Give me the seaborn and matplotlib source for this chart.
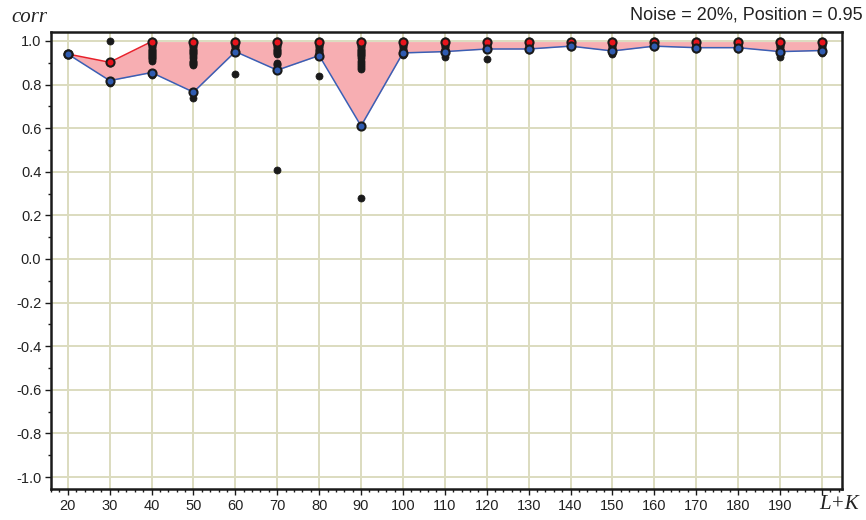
import numpy as np
import pandas as pd
import matplotlib
matplotlib.use("Agg")
import matplotlib.pyplot as plt
from matplotlib.ticker import MultipleLocator
import seaborn as sns

# window length L+K
lk = [20, 30, 40, 50, 60, 70, 80, 90, 100, 110, 120, 130, 140, 150, 160, 170, 180, 190, 200]

# individual correlation values for each window length
runs = {
    20: [0.94],
    30: [1.0, 0.90, 0.818, 0.805],
    40: [1.0, 0.995, 0.99, 0.985, 0.98, 0.975, 0.97, 0.965, 0.96, 0.955, 0.95, 0.945,
         0.94, 0.935, 0.93, 0.925, 0.92, 0.915, 0.91, 0.855, 0.842],
    50: [1.0, 0.995, 0.99, 0.985, 0.98, 0.975, 0.97, 0.965, 0.96, 0.955, 0.95, 0.945,
         0.94, 0.93, 0.92, 0.91, 0.905, 0.90, 0.895, 0.89, 0.765, 0.738],
    60: [1.0, 0.995, 0.99, 0.985, 0.98, 0.975, 0.97, 0.965, 0.96, 0.955, 0.951, 0.847],
    70: [1.0, 0.995, 0.99, 0.985, 0.98, 0.975, 0.97, 0.965, 0.96, 0.955, 0.95, 0.945,
         0.94, 0.90, 0.895, 0.89, 0.866, 0.407],
    80: [1.0, 0.995, 0.99, 0.985, 0.98, 0.975, 0.97, 0.965, 0.96, 0.955, 0.95, 0.945,
         0.94, 0.936, 0.841],
    90: [1.0, 0.995, 0.99, 0.985, 0.98, 0.975, 0.97, 0.965, 0.96, 0.955, 0.95, 0.945,
         0.94, 0.935, 0.93, 0.92, 0.91, 0.90, 0.89, 0.88, 0.87, 0.61, 0.281],
    100: [1.0, 0.995, 0.99, 0.985, 0.98, 0.975, 0.97, 0.965, 0.96, 0.955, 0.95, 0.945,
          0.936],
    110: [1.0, 0.995, 0.99, 0.985, 0.98, 0.975, 0.97, 0.965, 0.96, 0.955, 0.951, 0.925],
    120: [1.0, 0.995, 0.99, 0.985, 0.98, 0.975, 0.97, 0.965, 0.963, 0.919],
    130: [1.0, 0.995, 0.99, 0.985, 0.98, 0.975, 0.97, 0.966, 0.96],
    140: [1.0, 0.995, 0.99, 0.985, 0.98, 0.976, 0.97],
    150: [1.0, 0.995, 0.99, 0.985, 0.98, 0.975, 0.97, 0.965, 0.96, 0.955, 0.945, 0.939],
    160: [1.0, 0.995, 0.99, 0.985, 0.98, 0.976, 0.97],
    170: [1.0, 0.995, 0.99, 0.985, 0.98, 0.975, 0.969, 0.963],
    180: [1.0, 0.995, 0.99, 0.985, 0.98, 0.975, 0.969, 0.962],
    190: [1.0, 0.995, 0.99, 0.985, 0.98, 0.975, 0.97, 0.965, 0.96, 0.955, 0.951, 0.94,
          0.928],
    200: [1.0, 0.995, 0.99, 0.985, 0.98, 0.975, 0.97, 0.965, 0.96, 0.956, 0.945],
}

# upper and lower envelope of the band
upper = [0.94, 0.902, 0.997, 0.997, 0.997, 0.997, 0.997, 0.997, 0.997, 0.997,
         0.997, 0.997, 0.997, 0.997, 0.997, 0.997, 0.997, 0.997, 0.997]
lower = [0.94, 0.818, 0.855, 0.765, 0.951, 0.866, 0.933, 0.61, 0.945, 0.951,
         0.963, 0.963, 0.976, 0.954, 0.976, 0.969, 0.969, 0.951, 0.956]

yticks = [1.0, 0.8, 0.6, 0.4, 0.2, 0.0, -0.2, -0.4, -0.6, -0.8, -1.0]
xtick_labels = ["20", "30", "40", "50", "60", "70", "80", "90", "100", "110",
                "120", "130", "140", "150", "160", "170", "180", "190", ""]

pts = pd.DataFrame([(k, v) for k in lk for v in runs[k]], columns=["lk", "corr"])
band = pd.DataFrame({"lk": lk, "upper": upper, "lower": lower})

sns.set_style("white")
plt.rcParams["font.family"] = ["Liberation Sans", "DejaVu Sans"]
plt.rcParams["axes.unicode_minus"] = False

fig = plt.figure(figsize=(8.66, 5.2), dpi=100)
ax = fig.add_axes([0.0589, 0.0596, 0.9134, 0.8789])

grid_c = "#dcdcbf"
ax.set_xlim(16, 204.8)
ax.set_ylim(-1.055, 1.041)

# shaded band between the envelopes
ax.fill_between(band["lk"], band["lower"], band["upper"], color="#f7aeb2",
                linewidth=0, zorder=1)

# the upper line only stands out where it drops below the cap
below_cap = band.index[band["upper"] < 0.99]
rising = band.iloc[: below_cap.max() + 2]
sns.lineplot(data=rising, x="lk", y="upper", color="#e8202a", linewidth=1.1,
             ax=ax, zorder=2, estimator=None)
sns.lineplot(data=band, x="lk", y="lower", color="#3a5fb5", linewidth=1.1,
             ax=ax, zorder=2, estimator=None)

sns.scatterplot(data=pts, x="lk", y="corr", color="#1a1a1a", s=26,
                edgecolor="#1a1a1a", linewidth=0.5, ax=ax, zorder=3)
sns.scatterplot(data=band, x="lk", y="upper", color="#e8141c", s=34,
                edgecolor="#1a1a1a", linewidth=1.5, ax=ax, zorder=4)
sns.scatterplot(data=band, x="lk", y="lower", color="#2f5bb0", s=34,
                edgecolor="#1a1a1a", linewidth=1.5, ax=ax, zorder=4)

ax.set_xticks(lk)
ax.set_xticklabels(xtick_labels)
ax.set_yticks(yticks)
ax.set_yticklabels([f"{v:.1f}" for v in yticks])
ax.xaxis.set_minor_locator(MultipleLocator(2))
ax.yaxis.set_minor_locator(MultipleLocator(0.1))

ax.grid(True, which="major", color=grid_c, linewidth=1.4, zorder=0)
ax.set_axisbelow(True)
for s in ax.spines.values():
    s.set_color("#1a1a1a")
    s.set_linewidth(1.8)

ax.tick_params(axis="both", which="major", direction="out", length=4, width=1,
               color="#1a1a1a", labelsize=10.5, labelcolor="#222222", pad=3)
ax.tick_params(axis="both", which="minor", direction="out", length=2, width=1,
               color="#1a1a1a")
ax.tick_params(axis="x", which="both", bottom=True)
ax.tick_params(axis="y", which="both", left=True)

ax.set_xlabel("")
ax.set_ylabel("")

fig.text(0.013, 0.967, "corr", fontsize=15, style="italic",
         family=["Liberation Serif", "DejaVu Serif"], ha="left", va="center",
         color="#222222")
fig.text(0.946, 0.029, "L+K", fontsize=15, style="italic",
         family=["Liberation Serif", "DejaVu Serif"], ha="left", va="center",
         color="#222222")
fig.text(0.996, 0.972, "Noise = 20%, Position = 0.95", fontsize=13,
         ha="right", va="center", color="#222222")

fig.savefig("out.png", dpi=100)
